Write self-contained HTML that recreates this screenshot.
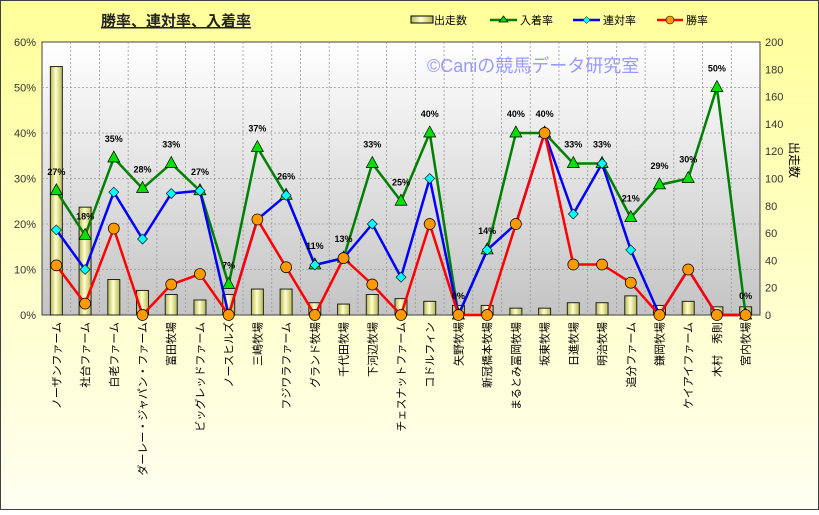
<!DOCTYPE html>
<html><head><meta charset="utf-8"><style>
body{margin:0;width:819px;height:510px;overflow:hidden;font-family:"Liberation Sans","Noto Sans CJK JP",sans-serif}
</style></head><body>
<svg width="819" height="510" xmlns="http://www.w3.org/2000/svg" font-family="Liberation Sans, Noto Sans CJK JP, sans-serif">
<defs>
<linearGradient id="bg" x1="0" y1="0" x2="0" y2="1"><stop offset="0" stop-color="#ffff99"/><stop offset="1" stop-color="#fffff2"/></linearGradient>
<linearGradient id="pa" x1="0" y1="0" x2="0" y2="1"><stop offset="0" stop-color="#ffffff"/><stop offset="1" stop-color="#c4c4c4"/></linearGradient>
<linearGradient id="bar" x1="0" y1="0" x2="1" y2="0"><stop offset="0" stop-color="#b8b850"/><stop offset="0.45" stop-color="#ffffd0"/><stop offset="1" stop-color="#b8b850"/></linearGradient>
</defs>
<rect x="0.5" y="0.5" width="818" height="509" fill="url(#bg)" stroke="#404040"/>
<rect x="42" y="42" width="718" height="273" fill="url(#pa)" stroke="#404040"/>
<g id="grid" stroke="#999" stroke-dasharray="2,2" stroke-width="0.8"></g>
<text x="176" y="26" font-size="15" font-weight="bold" text-anchor="middle" text-decoration="underline" fill="#222">勝率、連対率、入着率</text>
<text x="427" y="72" font-size="18" fill="#9999ff">©Caniの競馬データ研究室</text>
<g id="bars"></g><g id="lines"></g><g id="labels" font-size="11" fill="#000"></g>
<g font-size="11" fill="#333" id="ax"></g>
<text transform="translate(790,160) rotate(90)" font-size="12" text-anchor="middle" fill="#000">出走数</text>
<g font-size="11" fill="#000">
<rect x="411" y="16" width="22" height="7" fill="url(#bar)" stroke="#000"/><text x="434" y="24">出走数</text>
<line x1="490" y1="20" x2="517" y2="20" stroke="#008000" stroke-width="2.5"/><polygon points="503.5,16 499,22 508,22" fill="#00e000" stroke="#000" stroke-width="0.7"/><text x="520" y="24">入着率</text>
<line x1="573" y1="20" x2="600" y2="20" stroke="#0000ff" stroke-width="2.5"/><polygon points="586.5,16.5 590,20 586.5,23.5 583,20" fill="#00ffff" stroke="#000" stroke-width="0.5"/><text x="603" y="24">連対率</text>
<line x1="657" y1="20" x2="683" y2="20" stroke="#ff0000" stroke-width="2.5"/><circle cx="670" cy="20" r="4" fill="#ff9900" stroke="#000" stroke-width="0.6"/><text x="686" y="24">勝率</text>
</g>
</svg>
<script>
const names=["ノーザンファーム","社台ファーム","白老ファーム","ダーレー・ジャパン・ファーム","富田牧場","ビッグレッドファーム","ノースヒルズ","三嶋牧場","フジワラファーム","グランド牧場","千代田牧場","下河辺牧場","チェスナットファーム","コドルフィン","矢野牧場","新冠橋本牧場","まるとみ冨岡牧場","坂東牧場","日進牧場","明治牧場","追分ファーム","鎌岡牧場","ケイアイファーム","木村　秀則","宮内牧場"];
const cnt=[182,79,26,18,15,11,15,19,19,9,8,15,12,10,7,7,5,5,9,9,14,7,10,6,6];
const win=[10.9,2.5,19,0,6.7,9,0,21,10.5,0,12.5,6.7,0,20,0,0,20,40,11.1,11.1,7.1,0,10,0,0];
const ren=[18.7,10,27,16.7,26.7,27.3,0,21,26.3,11,12.5,20,8.3,30,0,14.3,20,40,22.2,33.3,14.3,0,10,0,0];
const ins=[27.3,17.5,34.5,27.8,33.3,27.3,6.7,36.8,26.3,11,12.5,33.3,25,40,0,14.3,40,40,33.3,33.3,21.4,28.6,30,50,0];
const ns="http://www.w3.org/2000/svg";
function el(p,t,a,txt){const e=document.createElementNS(ns,t);for(const k in a)e.setAttribute(k,a[k]);if(txt!=null)e.textContent=txt;document.getElementById(p).appendChild(e);return e;}
const L=42,T=42,B=315,H=273,P=718/25;
const X=i=>L+P*(i+0.5), Y=v=>B-v/60*H, YC=c=>B-c/200*H;
for(let k=1;k<6;k++)el("grid","line",{x1:L,x2:760,y1:Y(k*10),y2:Y(k*10)});
for(let i=1;i<25;i++)el("grid","line",{x1:L+P*i,x2:L+P*i,y1:T,y2:B});
for(let k=0;k<=6;k++)el("ax","text",{x:36,y:Y(k*10)+4,"text-anchor":"end"},(k*10)+"%");
for(let k=0;k<=10;k++)el("ax","text",{x:765,y:YC(k*20)+4},k*20);
cnt.forEach((c,i)=>el("bars","rect",{x:X(i)-6,y:YC(c),width:12,height:B-YC(c),fill:"url(#bar)",stroke:"#222","stroke-width":1}));
function line(d,col){el("lines","polyline",{points:d.map((v,i)=>X(i)+","+Y(v)).join(" "),fill:"none",stroke:col,"stroke-width":2.5,"stroke-linejoin":"round"});}
line(ins,"#008000");line(ren,"#0000ff");line(win,"#ff0000");
ins.forEach((v,i)=>{const x=X(i),y=Y(v);el("lines","polygon",{points:`${x},${y-7} ${x-6},${y+4} ${x+6},${y+4}`,fill:"#00e000",stroke:"#000","stroke-width":0.7});});
ren.forEach((v,i)=>{const x=X(i),y=Y(v);el("lines","polygon",{points:`${x},${y-5} ${x+5},${y} ${x},${y+5} ${x-5},${y}`,fill:"#00ffff",stroke:"#000","stroke-width":0.6});});
win.forEach((v,i)=>el("lines","circle",{cx:X(i),cy:Y(v),r:5.5,fill:"#ff9900",stroke:"#000","stroke-width":0.7}));
ins.forEach((v,i)=>el("lines","text",{x:X(i),y:Y(v)-16,"text-anchor":"middle","font-size":9,"font-weight":"bold"},Math.round(v)+"%"));
names.forEach((n,i)=>el("labels","text",{transform:`translate(${X(i)+4},322) rotate(-90)`,"text-anchor":"end"},n));
</script>
</body></html>
